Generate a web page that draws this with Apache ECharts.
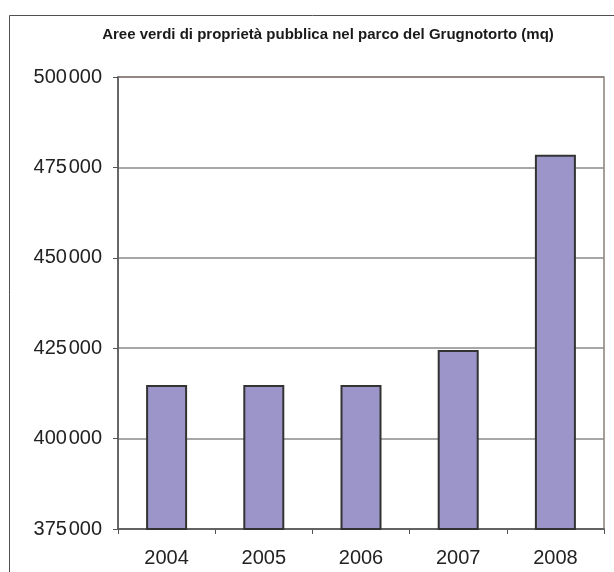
<!DOCTYPE html>
<html>
<head>
<meta charset="utf-8">
<script src="https://cdn.jsdelivr.net/npm/echarts@6/dist/echarts.min.js"></script>
<style>
  html, body { margin: 0; padding: 0; background: #fff; }
  #chart { width: 614px; height: 572px; }
</style>
</head>
<body>
<div id="chart"></div>
<script>
// Green areas in public ownership, Grugnotorto park (square metres)
const chartTitle = 'Aree verdi di proprietà pubblica nel parco del Grugnotorto (mq)';
const years = ['2004', '2005', '2006', '2007', '2008'];
const areaMq = [414800, 414800, 414800, 424500, 478500];
const yMin = 375000;
const yMax = 500000;
const yStep = 25000;

// thousands separated by a hair space, e.g. "500 000"
function fmtThousands(v) {
  const s = String(Math.round(v));
  return s.replace(/\B(?=(\d{3})+(?!\d))/g, '\u200A');
}

const chart = echarts.init(document.getElementById('chart'), null, { renderer: 'canvas' });

const gridLineColors = [];
for (let v = yMin; v <= yMax; v += yStep) {
  gridLineColors.push(v === yMax ? '#8c7f7c' : '#8a8a8a');
}

chart.setOption({
  animation: false,
  backgroundColor: '#ffffff',
  title: {
    text: chartTitle,
    left: 323,
    textAlign: 'center',
    top: 22,
    textStyle: {
      fontFamily: 'Liberation Sans, Arial, sans-serif',
      fontSize: 15,
      fontWeight: 'bold',
      color: '#1a1a1a'
    }
  },
  graphic: [{
    type: 'rect',
    shape: { x: 9.5, y: 15.5, width: 640, height: 600 },
    style: { fill: 'none', stroke: '#505050', lineWidth: 1 },
    silent: true,
    z: 0
  }],
  grid: {
    left: 118,
    top: 77,
    right: 10,
    bottom: 43,
    show: true,
    borderColor: '#8c7f7c',
    borderWidth: 1.5,
    backgroundColor: 'transparent'
  },
  xAxis: {
    type: 'category',
    data: years,
    axisLine: { show: true, lineStyle: { color: '#555', width: 1.5 } },
    axisTick: { show: true, alignWithLabel: false, length: 5, lineStyle: { color: '#555', width: 1 } },
    axisLabel: {
      margin: 19,
      fontFamily: 'Liberation Sans, Arial, sans-serif',
      fontSize: 20,
      color: '#222'
    },
    splitLine: { show: false }
  },
  yAxis: {
    type: 'value',
    min: yMin,
    max: yMax,
    interval: yStep,
    axisLine: { show: true, lineStyle: { color: '#555', width: 1.5 } },
    axisTick: { show: true, length: 5, lineStyle: { color: '#555', width: 1 } },
    axisLabel: {
      margin: 16,
      fontFamily: 'Liberation Sans, Arial, sans-serif',
      fontSize: 20,
      color: '#222',
      formatter: fmtThousands
    },
    splitLine: { show: true, lineStyle: { color: gridLineColors, width: 1.5 } }
  },
  series: [{
    type: 'bar',
    data: areaMq,
    barWidth: 41,
    itemStyle: {
      color: '#9b95c9',
      borderColor: '#333333',
      borderWidth: 2
    }
  }]
});
</script>
</body>
</html>
